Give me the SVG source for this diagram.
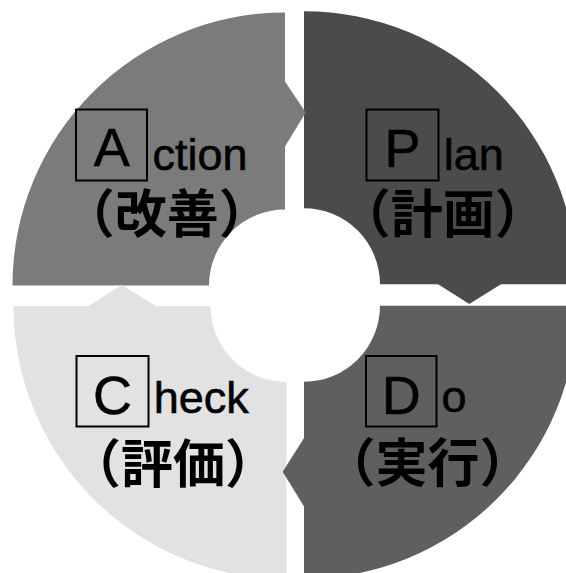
<svg xmlns="http://www.w3.org/2000/svg" width="566" height="573" viewBox="0 0 566 573">
<style>
.box{fill:none;stroke:#000;stroke-width:2}
.cap{font-family:"Liberation Sans",Arial,sans-serif;font-size:54px;fill:#000;stroke:#000;stroke-width:0.6;text-anchor:middle}
.low{font-family:"Liberation Sans",Arial,sans-serif;font-size:45px;fill:#000;stroke:#000;stroke-width:0.6}
.jp{font-family:"Noto Sans CJK JP","Liberation Sans",sans-serif;font-size:52px;font-weight:bold;fill:#000;text-anchor:middle}
</style>
<rect width="566" height="573" fill="#fff"/>
<g id="action">
<path d="M12.5 285.5 A273 273 0 0 1 285 12.5 L285 209.5 A76 76 0 0 0 209 285.5 Z" fill="#7b7b7b"/>
<rect class="box" x="76" y="109.5" width="71" height="71"/>
<text class="cap" x="111.7" y="166">A</text>
<text class="low" x="152.5" y="170">ction</text>
<text class="jp" x="166.7" y="233">（改善）</text>
</g>
<g id="plan">
<path d="M304 11.3 A273 273 0 0 1 577 284.3 L380 284.3 A76 76 0 0 0 304 208.3 Z" fill="#4b4b4b"/>
<rect class="box" x="366.5" y="109.5" width="72" height="71"/>
<text class="cap" x="402.5" y="166.5">P</text>
<text class="low" x="443.7" y="169.5">lan</text>
<text class="jp" x="442.8" y="233">（計画）</text>
</g>
<g id="do">
<path d="M577 305.7 A273 273 0 0 1 304 578.7 L304 381.7 A76 76 0 0 0 380 305.7 Z" fill="#5f5f5f"/>
<rect class="box" x="366" y="356" width="70.5" height="70.5"/>
<text class="cap" x="401.3" y="414">D</text>
<text class="low" x="441.5" y="411.7">o</text>
<text class="jp" x="427.5" y="481.5">（実行）</text>
</g>
<g id="check">
<path d="M286.5 579 A273 273 0 0 1 13.5 306 L210.5 306 A76 76 0 0 0 286.5 382 Z" fill="#e2e2e2"/>
<rect class="box" x="76.5" y="356" width="72" height="70.5"/>
<text class="cap" x="112.5" y="414">C</text>
<text class="low" x="153.7" y="413.3">heck</text>
<text class="jp" x="173" y="483">（評価）</text>
</g>
<g id="connectors">
<polygon points="284.5,80.7 305.7,112.5 284.5,147.3" fill="#7b7b7b"/>
<polygon points="437.3,283.8 469.3,304 501.7,283.8" fill="#4b4b4b"/>
<polygon points="304.5,437.3 282.7,471.7 304.5,507.3" fill="#5f5f5f"/>
<polygon points="88,306.5 121.7,285 156.7,306.5" fill="#e2e2e2"/>
</g>
</svg>
